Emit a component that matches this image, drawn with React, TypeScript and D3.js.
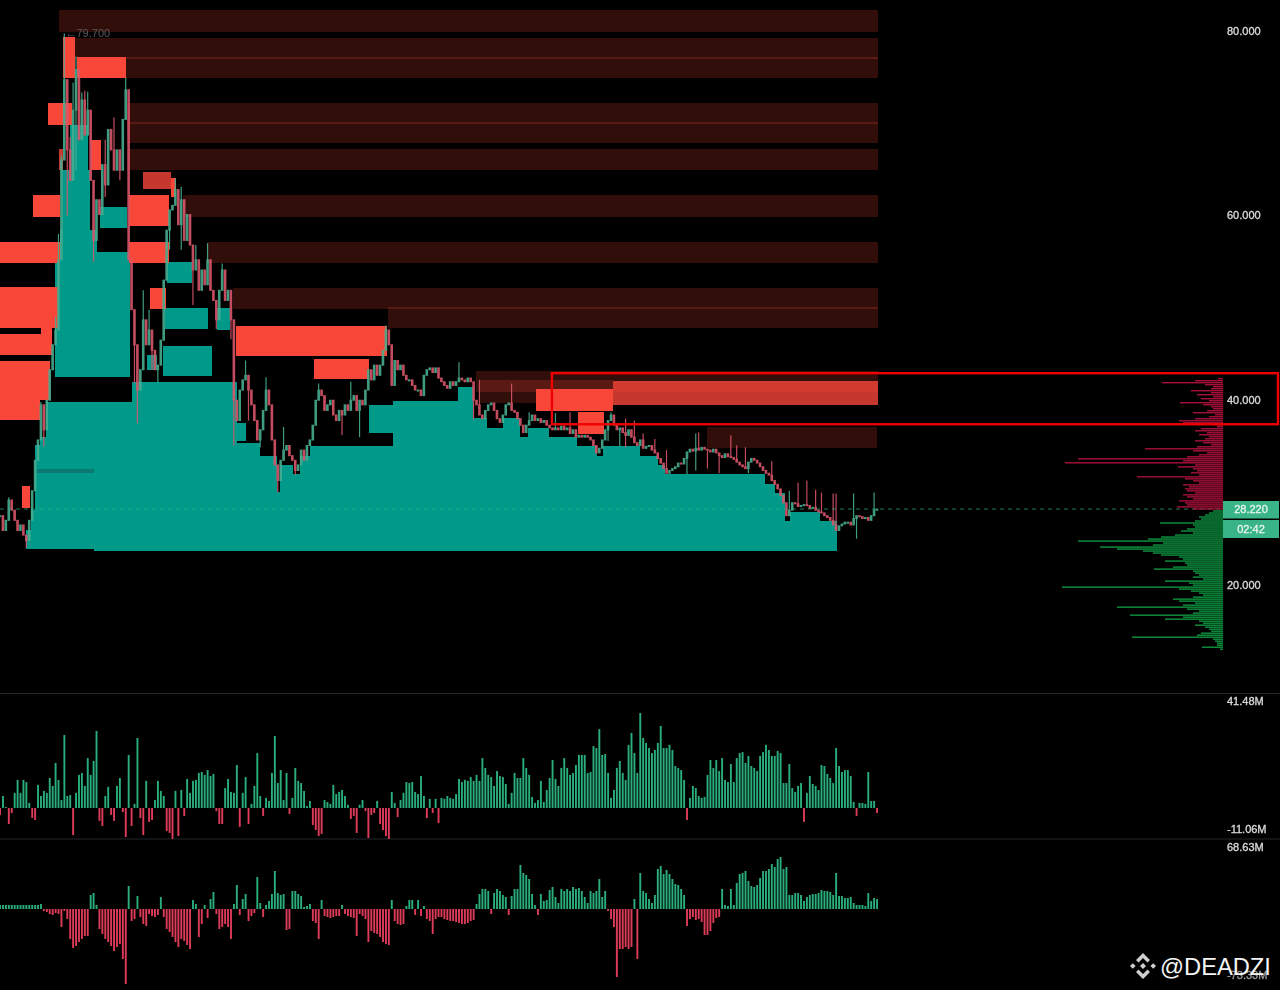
import React from 'react'
import * as d3 from 'd3'

// price candles, one close per bar (open = previous close)
const closes = [
  27.5, 25.9, 27, 29.2, 28.1, 27, 25.9, 26.5, 25.4, 24.8,
  27, 30.2, 33.5, 35.7, 39.5, 36.8, 40, 43.3, 46, 47.6,
  55.2, 66, 74.7, 67.1, 63.8, 71.4, 75.8, 68.2, 72.5, 68.7,
  71.4, 63.8, 57.3, 61.7, 60.1, 65.5, 63.3, 69.3, 67.1, 64.9,
  67.1, 64.9, 70.4, 73.6, 55.2, 49.8, 46, 41.1, 43.3, 48.7,
  46, 47.6, 45.4, 43.3, 43.8, 46.5, 53, 58.4, 60.6, 61.1,
  62.8, 59, 61.7, 57.3, 60.1, 56.8, 54.1, 55.2, 51.9, 54.1,
  52.5, 55.2, 51.9, 50.8, 48.7, 51.9, 54.1, 50.8, 51.9, 48.7,
  40, 37.8, 41.1, 42.2, 42.7, 41.1, 39.5, 37.8, 35.7, 36.8,
  38.9, 41.1, 39.5, 35.7, 33, 31.3, 33.5, 34.6, 35.1, 34,
  33.5, 32.4, 33, 34.6, 33.5, 35.1, 35.7, 37.3, 40, 41.1,
  40.5, 38.9, 39.5, 40, 38.4, 37.8, 38.9, 38.4, 39.5, 38.9,
  40, 40.5, 38.9, 40, 39.5, 41.1, 43.3, 42.2, 43.8, 42.7,
  43.8, 45.4, 47.6, 46, 41.6, 44.3, 43.3, 43.8, 42.7, 42.2,
  42.2, 41.6, 41.1, 41.1, 40.5, 42.7, 43.3, 43.5, 43, 43.5,
  42.4, 42, 41.6, 41.3, 42, 41.6, 42, 42.4, 42.2, 42,
  42.4, 42, 40, 39.5, 38.4, 38, 38.9, 39.5, 39.7, 38.9,
  38, 37.6, 38.4, 39.5, 39.7, 38.9, 38.7, 38, 37.3, 36.5,
  37.3, 37.8, 38.4, 37.8, 38, 37.6, 37.8, 37.3, 37, 36.8,
  37, 36.8, 37.2, 36.8, 37, 36.4, 36.8, 36, 36.2, 36,
  36.2, 36, 35.7, 35.1, 34.3, 34.8, 35.7, 36.8, 37.8, 38.4,
  37.3, 36.8, 37, 36.5, 36.2, 36.8, 36, 35.4, 35.1, 35.7,
  34.8, 35, 35.1, 34.6, 34.3, 33.7, 33.2, 32.6, 32.1, 32.4,
  32.6, 32.8, 33.2, 33.1, 33.7, 34.4, 34.7, 34.5, 34.8, 34.6,
  34.9, 34.7, 34.6, 34.4, 34.7, 34.3, 34, 33.8, 34.2, 33.9,
  33.8, 33.6, 33.3, 33, 32.8, 32.6, 33.3, 33.7, 33.5, 33.2,
  32.8, 32.4, 32.1, 31.9, 31.3, 30.9, 30.4, 29.7, 28.9, 27.5,
  28.1, 28.9, 28.8, 28.5, 28.6, 28.7, 28.6, 28.3, 28.4, 28.1,
  27.9, 27.8, 27.5, 27.3, 27, 26.5, 25.9, 26.4, 26.6, 26.8,
  26.8, 26.5, 27.2, 27.5, 27.4, 27.2, 27.3, 27, 27.5, 28.1,
  28.22,
]

// [bar, price]
const upperWicks = [
  [3, 29.5], [14, 39.8], [19, 49], [20, 58], [21, 66.5], [22, 79.7], [24, 68.5], [25, 74.4], [26, 77.2],
  [28, 73.3], [29, 73.5], [30, 73.4], [36, 68.2], [39, 70.6], [43, 74.9], [49, 51.9], [51, 49.8],
  [60, 64], [62, 63.1], [67, 56.8], [71, 57], [76, 54.8], [84, 44.3], [91, 42.5], [97, 37.1], [109, 41.8],
  [120, 42], [132, 48.1], [157, 44.1], [164, 42.2], [175, 41.8], [181, 38.7], [190, 38.6], [195, 38.7],
  [209, 38.7], [214, 38], [217, 37.8], [220, 36.4], [224, 35.8], [228, 34.6], [238, 36.4], [239, 36.5],
  [250, 36.2], [252, 35.1], [255, 34.9], [264, 33.4], [270, 30.2], [273, 31.1], [276, 31.3], [279, 30.3],
  [281, 30], [285, 29.9], [286, 29.9], [292, 29.9], [299, 30],
]
const lowerWicks = [
  [9, 24], [15, 35], [20, 50], [21, 56], [23, 60], [26, 64.9], [32, 55], [36, 62], [41, 63.8], [46, 41.9],
  [47, 37.5], [52, 43.3], [54, 41.9], [58, 56.3], [62, 56.3], [66, 50.3], [74, 47.7], [79, 46.6], [80, 35.1],
  [85, 37.8], [89, 34.9], [95, 30], [101, 31.9], [117, 36.2], [123, 36], [162, 38], [208, 35.6], [212, 35],
  [214, 34.9], [218, 35.2], [235, 32], [238, 32.4], [242, 32.6], [246, 32.1], [256, 32.1], [293, 25],
]

// zones: [startBar, endBar, topPrice, bottomPrice]
const faintZones = [
  [20.2, 300.4, 82.28, 79.89], [25.7, 300.4, 79.24, 76.96], [43.1, 300.4, 77.18, 74.91],
  [43.4, 300.4, 72.2, 69.92], [43.4, 300.4, 70.14, 67.86], [43.4, 300.4, 67.21, 64.93],
  [62.6, 300.4, 62.22, 59.84], [70.8, 300.4, 57.13, 54.85], [79.7, 300.4, 52.14, 49.86],
  [132.7, 300.4, 50.08, 47.81], [162.8, 300.4, 43.14, 40.87], [164.2, 209.7, 42.17, 39.68],
  [241.9, 300, 37.07, 34.8],
]
const mutedZones = [
  [209.7, 300.4, 42.06, 39.46], [48.9, 58.5, 64.72, 62.87], [20.2, 21.6, 67.21, 64.93],
]
const solidZones = [
  [21.6, 25.7, 79.35, 74.91], [26.3, 43.1, 77.18, 74.91], [16.4, 24.6, 72.2, 69.81], [31.1, 34.6, 68.18, 64.93],
  [58.5, 60.2, 64.07, 62], [11.3, 20.5, 62.22, 59.84], [44.1, 57.8, 62.22, 58.86], [0, 20.5, 57.13, 54.85],
  [44.1, 57.8, 57.13, 54.85], [0, 19.8, 52.25, 47.81], [14, 17.8, 47.81, 47.15], [0, 17.8, 47.15, 44.88],
  [0, 17.1, 44.23, 40], [0, 13.7, 40, 37.83], [51.3, 56.8, 52.14, 49.86], [80.7, 132.4, 48.02, 44.77],
  [107.4, 126.2, 44.44, 42.28], [7.5, 10.3, 30.68, 28.29], [183.4, 209.7, 41.19, 38.81], [197.7, 206.6, 38.7, 36.31],
]
const supportZones = [
  [8.9, 10.6, 25.91, 23.85], [10.6, 12, 28.08, 23.85], [12, 13.7, 35.12, 23.85], [13.7, 15.7, 35.99, 23.85],
  [15.7, 32.2, 39.78, 23.85], [32.2, 45.2, 39.78, 23.63], [45.2, 81.1, 41.95, 23.63], [81.1, 88.9, 35.34, 23.63],
  [88.9, 94.8, 33.93, 23.63], [94.8, 95.8, 30.03, 23.63], [95.8, 100.2, 32.95, 23.63], [100.2, 102.6, 31.98, 23.63],
  [102.6, 106, 33.93, 23.63], [106, 134.4, 35.01, 23.63], [134.4, 156.7, 39.89, 23.63], [156.7, 161.8, 41.41, 23.63],
  [161.8, 166.6, 38.05, 23.63], [166.6, 172.1, 36.96, 23.63], [172.1, 177.9, 38.05, 23.63], [177.9, 180.6, 35.99, 23.63],
  [180.6, 187.8, 36.96, 23.63], [187.8, 197.4, 35.99, 23.63], [197.4, 204.2, 35.01, 23.63], [204.2, 206.3, 33.93, 23.63],
  [206.3, 218.9, 35.01, 23.63], [218.9, 225.1, 33.93, 23.63], [225.1, 227.5, 32.95, 23.63], [227.5, 261.7, 31.98, 23.63],
  [261.7, 265.1, 30.89, 23.63], [265.1, 268.5, 29.92, 23.63], [268.5, 270.3, 26.88, 23.63], [270.3, 280.5, 27.86, 23.63],
  [280.5, 286.3, 26.88, 23.63],
  [18.8, 44.5, 56.04, 42.49], [23.9, 30.1, 69.81, 55.2], [21.2, 30.8, 64.93, 55.2], [20.5, 33.2, 58.43, 55.2],
  [34.2, 43.4, 60.92, 58.64], [57.1, 65.7, 54.96, 52.68], [56.4, 71.2, 49.97, 47.7], [55.8, 72.5, 45.85, 42.6],
  [74.2, 78.7, 49.97, 47.59], [50.3, 53.7, 44.88, 43.25], [126.2, 134.4, 39.46, 36.42], [81.1, 84.2, 37.51, 35.56],
]
const fadedStrip = [12.7, 32.2, 32.52, 32.09]

// volume profile, one width per price row, top to bottom
const sellProfile = [
  5, 28, 61, 18, 10, 12, 32, 12, 26, 10, 22, 14, 43, 20, 12, 10, 16, 30, 8, 14, 28, 44, 40,
  10, 6, 22, 28, 16, 24, 14, 18, 28, 20, 12, 26, 78, 30, 16, 24, 36, 145, 40, 158, 28, 45, 30, 26, 32, 24, 86,
  38, 30, 24, 40, 34, 38, 36, 28, 40, 36, 30, 44, 38, 36, 46, 30,
]
const buyProfile = [
  10, 14, 18, 24, 22, 28, 63, 30, 28, 36, 42, 30, 48, 62, 75, 145, 60, 70, 123, 106, 80, 70, 62, 44, 40, 58,
  38, 36, 50, 69, 30, 28, 24, 30, 20, 58, 34, 30, 161, 44, 32, 24, 20, 30, 50, 44, 28, 40, 106, 36, 24, 30,
  93, 40, 58, 24, 20, 28, 18, 14, 12, 22, 26, 91, 10, 8, 6, 6, 21, 3,
]
const sellProfileTop = 42.4
const buyProfileTop = 28.08
const profileStep = 0.2168

// histogram panels, millions per bar
const flowA = [
  -2.9, 5, 0.4, -6.7, -2.1, 6.3, 11.7, 6.3, 11.7, 10.8, 2.1, -4.2, -5, 9.6, 5, 7.1, 6.3, 12.5, 9.2, 18.8,
  11.7, 3.3, 30.4, 5, 5.4, -11.3, 6.3, 13.8, 14.6, 9.2, 20.8, 13.8, 19.6, 32.1, -5.4, -7.5, 5, 8.8, -2.9, -5.4,
  9.2, 12.5, -1.7, -12.1, 22.1, -7.5, 1.7, 29.2, -4.2, -11.3, 11.3, -5.8, -5, 3.3, 11.3, 7.1, 5, -9.6, -10.4, -12.9,
  7.1, -11.7, 7.5, -3.3, 12.1, 6.3, 11.3, 11.7, 14.6, 15, 13.8, 15.8, 13.3, 14.2, -1.3, -6.7, -6.7, 8.3, 12.1, 6.7,
  6.3, 17.9, -7.9, 6.3, 12.9, -6.7, 1.7, 9.2, 22.9, 5, -3.3, 4.2, 2.9, 14.6, 30, 10.4, 15.8, 3.3, 14.6, -2.5,
  4.2, 16.7, 11.3, 10.4, 7.1, 0.8, 2.9, -7.1, -9.2, -11.7, -10.8, 3.3, 2.5, 1.7, 9.6, 5.8, 6.7, 7.5, 5, 1.3,
  -4.6, -3.3, -10.4, 1.3, 3.3, -1.3, -12.5, -2.9, -2.1, 2.9, -6.7, -9.2, -11.7, -12.9, 6.7, 2.1, -3.8, 3.3, 6.3, 10.8,
  10.4, 10.8, 6.7, 5.8, 13.3, 5, -4.2, 3.8, -2.1, 3.8, -6.3, 4.2, 3.8, 5, 4.2, 3.8, 5.8, 12.1, 10.8, 11.7,
  11.3, 12.9, 11.3, 13.8, 11.3, 20.8, 16.7, 13.8, 12.9, 9.2, 15.4, 13.3, 12.9, 10, 1.7, 6.3, 14.6, 12.5, 12.5, 20.8,
  16.7, 13.8, 4.6, 2.1, 3.3, 11.3, 2.5, 7.5, 12.5, 20, 12.1, 9.2, 16.7, 20.8, 16.7, 13.8, 14.6, 17.9, 22.1, 22.1,
  22.1, 14.6, 15, 25.8, 25, 32.9, 22.1, 22.5, 14.6, 4.2, 7.5, 16.7, 19.6, 14.6, 11.7, 26.3, 31.3, 22.9, 14.6, 39.6,
  29.2, 27.1, 25, 22.9, 24.2, 27.1, 34.2, 25, 25, 26.3, 24.2, 17.5, 16.7, 15.8, 11.7, -5, 4.2, 9.2, 8.3, 5,
  4.2, 4.6, 13.8, 20, 16.7, 20, 15.4, 20.8, 11.7, 10.8, 18.3, 10.8, 20.8, 22.9, 23.3, 18.8, 21.7, 17.5, 16.7, 15.4,
  21.7, 23.3, 26.3, 24.2, 21.7, 21.7, 23.8, 22.9, 10.4, 10.4, 18.3, 8.3, 6.7, 9.2, 10.4, -5.8, 6.3, 13.3, 10, 9.2,
  7.5, 17.9, 17.5, 14.2, 12.5, 10.4, 25, 17.5, 15, 15.8, 15.8, 13.3, 2.5, -3.3, 2.1, 2.1, 1.7, 15, 2.9, 2.9, -2.1,
]
const flowB = [
  4, 4, 4, 4, 4, 4, 4, 4, 4, 4, 4, 4, 4, 4, 5, -2, -3, -5, -6, -4,
  -5, -18, -2, -10, -30, -39, -37, -33, -30, -27, -27, 14, 16, 4, -20, -25, -30, -33, -37, -42,
  -38, -35, -50, -75, 23, -12, -10, 13, -8, -15, -17, -5, -7, -8, -6, 12, -8, -20, -23, -28,
  -33, -38, -30, -32, -36, -40, 9, 5, -28, -15, 4, -9, 10, 17, -5, -20, -18, -15, -18, -30,
  5, 24, -6, 10, 15, -12, -7, -4, 32, 6, -8, 4, 8, 15, 38, 16, 14, 15, -21, -20,
  18, 18, 15, 13, 2, 3, 5, -12, -14, -30, 9, -7, -8, -9, -8, -7, -7, 4, -5, -7,
  -8, -9, -27, -5, -7, -10, -33, -22, -24, -25, -28, -33, -35, -36, 9, -12, -15, -16, -15, 3,
  9, 9, -6, 9, -7, 3, -10, -12, -25, -10, -8, -8, -10, -11, -12, -12, -13, -14, -15, -15,
  -14, -12, -11, 5, 15, 20, 20, 18, -5, 16, 20, 18, 14, 12, -6, 13, 20, 20, 44, 36,
  34, 30, 15, 4, -6, 15, 8, 9, 19, 22, 12, 6, 20, 18, 20, 18, 22, 20, 21, 18,
  12, 6, 18, 16, 18, 30, 12, 18, -2, -10, -18, -68, -40, -40, -38, -40, -38, 10, -50, 36,
  18, 16, 10, 6, 14, 40, 43, 35, 39, 35, 30, 25, 24, 20, 14, -17, -10, -8, -11, -10,
  -13, -26, -26, -22, -14, -9, -8, 20, 4, 3, 20, 4, 26, 35, 36, 38, 28, 23, 22, 24,
  31, 38, 38, 40, 45, 42, 50, 52, 40, 42, 14, 14, 16, 16, 14, 8, 12, 14, 15, 15,
  16, 19, 18, 18, 17, 14, 36, 13, 13, 11, 11, 12, 6, 4, 4, 4, 3, 16, 8, 11, 10,
]

const priceTicks = [80, 60, 40, 20]
const lastPrice = 28.22
const countdown = '02:42'
const peakPrice = 79.7

const UP = '#2ebd85'
const DOWN = '#f0405f'
const TEAL = '#019a8a'
const RED = '#f84638'
const FONT = '"Liberation Sans", Arial, sans-serif'

const x = d3.scaleLinear().domain([0, 300]).range([0, 877])
const y = d3.scaleLinear().domain([80, 20]).range([30.7, 585])
const yA = d3.scaleLinear().domain([-11.06, 41.48]).range([834.5, 708.5])
const yB = d3.scaleLinear().domain([-73.33, 68.63]).range([982.33, 840.37])
const profileX = d3.scaleLinear().domain([0, 160]).range([1223, 1063])

const highAt = new Map(upperWicks.map(d => [d[0], d[1]]))
const lowAt = new Map(lowerWicks.map(d => [d[0], d[1]]))

const Zones = ({ rows, fill, opacity = 1 }: { rows: number[][]; fill: string; opacity?: number }) => (
  <g fill={fill} fillOpacity={opacity} shapeRendering="crispEdges">
    {rows.map((z, i) => (
      <rect key={i} x={x(z[0])} width={x(z[1]) - x(z[0])} y={y(z[2])} height={y(z[3]) - y(z[2])} />
    ))}
  </g>
)

const Histogram = ({ values, scale }: { values: number[]; scale: d3.ScaleLinear<number, number> }) => (
  <g>
    {values.map((v, i) => (
      <rect
        key={i}
        x={x(i) - 0.9}
        width={1.9}
        y={Math.min(scale(v), scale(0))}
        height={Math.abs(scale(v) - scale(0))}
        fill={v >= 0 ? UP : DOWN}
        fillOpacity={0.92}
      />
    ))}
  </g>
)

const AxisLabel = ({ py, text, fill = '#d8d8d8' }: { py: number; text: string; fill?: string }) => (
  <text x={1227} y={py} dy="0.35em" fontSize={11} fill={fill} fontFamily={FONT} stroke={fill} strokeWidth={0.35}>
    {text}
  </text>
)

export default function App() {
  return (
    <svg
      width={1280}
      height={990}
      style={{ position: 'absolute', left: 0, top: 0, display: 'block', background: '#000' }}
    >
      <rect width={1280} height={990} fill="#000" />
      <g style={{ filter: 'blur(0.35px)' }}>
        <Zones rows={faintZones} fill={RED} opacity={0.2} />
        <Zones rows={supportZones} fill={TEAL} />
        <Zones rows={[fadedStrip]} fill="#0c7a70" />
        <Zones rows={mutedZones} fill={RED} opacity={0.8} />
        <Zones rows={solidZones} fill={RED} />

        {/* candles */}
        <g>
          {closes.map((c, i) => {
            const o = i === 0 ? c : closes[i - 1]
            const color = c >= o ? '#48ad90' : '#d9566a'
            const top = Math.max(o, c)
            const bottom = Math.min(o, c)
            return (
              <g key={i} opacity={0.9}>
                <line
                  x1={x(i)}
                  x2={x(i)}
                  y1={y(highAt.get(i) ?? top)}
                  y2={y(lowAt.get(i) ?? bottom)}
                  stroke={color}
                  strokeWidth={1.2}
                />
                <rect x={x(i) - 1.3} width={2.6} y={y(top) - 0.5} height={Math.max(2, y(bottom) - y(top) + 1)} fill={color} />
              </g>
            )
          })}
        </g>

        <line x1={0} x2={1223} y1={y(lastPrice)} y2={y(lastPrice)} stroke={UP} strokeOpacity={0.65} strokeDasharray="4 4" />

        <text x={x(22.4)} y={y(peakPrice)} dy="0.35em" fontSize={11} fill="#5a5a5a" fontFamily={FONT}>
          {`←${peakPrice.toFixed(3)}`}
        </text>

        {/* volume profile */}
        <g fill="#b5123f">
          {sellProfile.map((v, i) => (
            <rect key={i} x={profileX(v)} width={profileX(0) - profileX(v)} y={y(sellProfileTop - i * profileStep)} height={1.3} />
          ))}
        </g>
        <g fill="#0fa044">
          {buyProfile.map((v, i) => (
            <rect key={i} x={profileX(v)} width={profileX(0) - profileX(v)} y={y(buyProfileTop - i * profileStep)} height={1.3} />
          ))}
        </g>

        {/* highlight box */}
        <rect x={x(188.8)} y={y(42.93)} width={1278 - x(188.8)} height={y(37.4) - y(42.93)} fill="none" stroke="#f00000" strokeWidth={2.4} />

        <line x1={0} x2={1280} y1={693.5} y2={693.5} stroke="#24272c" />
        <line x1={0} x2={1280} y1={839} y2={839} stroke="#24272c" />

        <Histogram values={flowA} scale={yA} />
        <Histogram values={flowB} scale={yB} />

        {priceTicks.map(t => (
          <AxisLabel key={t} py={y(t)} text={t.toFixed(3)} />
        ))}
        <AxisLabel py={701} text="41.48M" />
        <AxisLabel py={829} text="-11.06M" />
        <AxisLabel py={847} text="68.63M" />
        <AxisLabel py={975} text="-73.33M" fill="#9a9a9a" />

        <rect x={1223} y={501} width={56} height={17.5} fill="#38b487" />
        <rect x={1223} y={520} width={56} height={18} fill="#38b487" />
        <text x={1251} y={509.5} dy="0.35em" textAnchor="middle" fontSize={11} fill="#e8f5ef" fontFamily={FONT} stroke="#e8f5ef" strokeWidth={0.3}>
          {lastPrice.toFixed(3)}
        </text>
        <text x={1251} y={529} dy="0.35em" textAnchor="middle" fontSize={11} fill="#e8f5ef" fontFamily={FONT} stroke="#e8f5ef" strokeWidth={0.3}>
          {countdown}
        </text>
      </g>

      {/* watermark */}
      <g transform="translate(1143,966)" fill="#cfcfcf">
        <path d="M0,-13 L7,-6 L4.5,-3.5 L0,-8 L-4.5,-3.5 L-7,-6 Z" />
        <path d="M0,13 L7,6 L4.5,3.5 L0,8 L-4.5,3.5 L-7,6 Z" />
        <path d="M-13,0 L-10.2,-2.8 L-7.4,0 L-10.2,2.8 Z" />
        <path d="M13,0 L10.2,-2.8 L7.4,0 L10.2,2.8 Z" />
        <path d="M0,-3 L3,0 L0,3 L-3,0 Z" />
      </g>
      <text x={1160} y={975} fontSize={23.7} fill="#f4f4f4" fontFamily={FONT}>
        @DEADZI
      </text>
    </svg>
  )
}
